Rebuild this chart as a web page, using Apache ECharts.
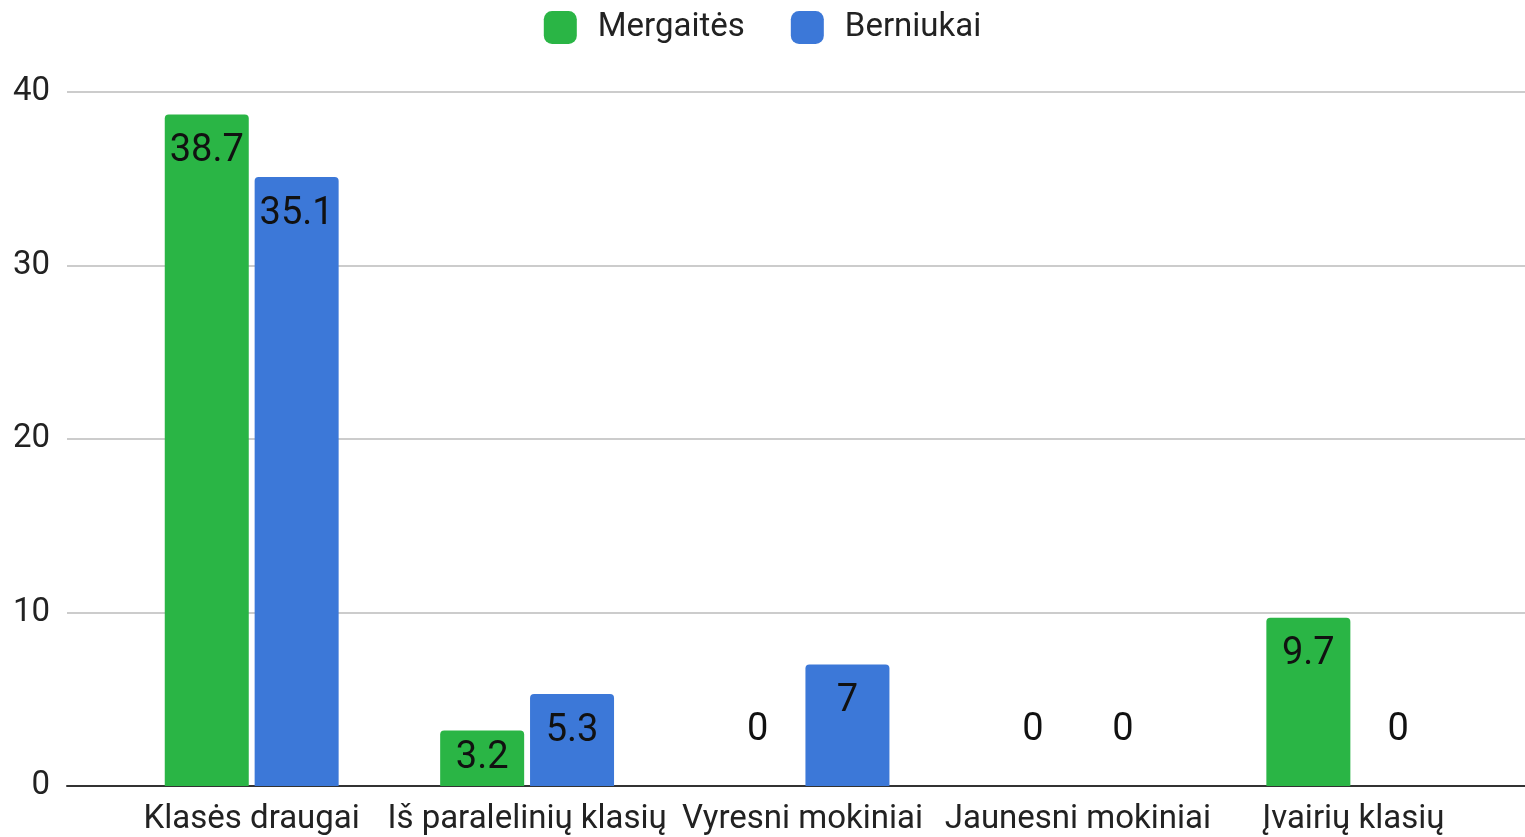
<!DOCTYPE html>
<html><head><meta charset="utf-8">
<script src="https://cdn.jsdelivr.net/npm/echarts@6/dist/echarts.min.js"></script>
<style>html,body{margin:0;padding:0;background:#fff}#c{width:1525px;height:837px}</style>
</head><body><div id="c"></div>
<script>
const categories = ['Klasės draugai', 'Iš paralelinių klasių', 'Vyresni mokiniai', 'Jaunesni mokiniai', 'Įvairių klasių'];
const seriesNames = ['Mergaitės', 'Berniukai'];
const girls = [38.7, 3.2, 0, 0, 9.7];
const boys = [35.1, 5.3, 7, 0, 0];
const yTicks = [0, 10, 20, 30, 40];
const colors = ['#2ab545', '#3c78d8'];

const FONT = 'Roboto';
function toData(vals) {
  return vals.map(v => {
    if (v === 0) return { value: v, label: { position: 'top', distance: 37 } };
    if (v < 4) return { value: v, label: { position: 'inside' } };
    return v;
  });
}
const chart = echarts.init(document.getElementById('c'), null, { renderer: 'canvas' });
chart.setOption({
  animation: false,
  textStyle: { fontFamily: FONT },
  color: colors,
  legend: {
    top: 6, left: 'center',
    itemWidth: 33, itemHeight: 33, itemGap: 46,
    icon: 'roundRect',
    textStyle: { fontFamily: FONT, fontSize: 33, color: '#222', padding: [0, 0, 0, 16] },
    data: seriesNames
  },
  grid: [
    { left: 67, right: 0, top: 92, bottom: 51 },
    { left: 114, right: 34, top: 92, bottom: 51 }
  ],
  xAxis: [
    { gridIndex: 0, type: 'category', data: categories,
      axisLine: { show: true, lineStyle: { color: '#333', width: 2 } },
      axisTick: { show: false }, axisLabel: { show: false }, splitLine: { show: false } },
    { gridIndex: 1, type: 'category', data: categories,
      axisLine: { show: false }, axisTick: { show: false },
      axisLabel: { fontFamily: FONT, fontSize: 33, color: '#222', margin: 17, interval: 0 } }
  ],
  yAxis: [
    { gridIndex: 0, type: 'value', min: yTicks[0], max: yTicks[yTicks.length - 1], interval: 10,
      axisLine: { show: false }, axisTick: { show: false },
      axisLabel: { fontFamily: FONT, fontSize: 33, color: '#222', margin: 17 },
      splitLine: { lineStyle: { color: '#cccccc', width: 2 } } },
    { gridIndex: 1, type: 'value', min: yTicks[0], max: yTicks[yTicks.length - 1], interval: 10,
      axisLine: { show: false }, axisTick: { show: false }, axisLabel: { show: false },
      splitLine: { show: false } }
  ],
  series: [girls, boys].map((vals, i) => ({
    name: seriesNames[i], type: 'bar', xAxisIndex: 1, yAxisIndex: 1,
    data: toData(vals),
    barWidth: 84, barGap: '7%',
    itemStyle: { color: colors[i], borderRadius: [4, 4, 0, 0] },
    label: { show: true, position: 'insideTop', distance: 18,
      fontFamily: FONT, fontSize: 38, color: '#111' },
    z: 3
  }))
});
</script></body></html>
